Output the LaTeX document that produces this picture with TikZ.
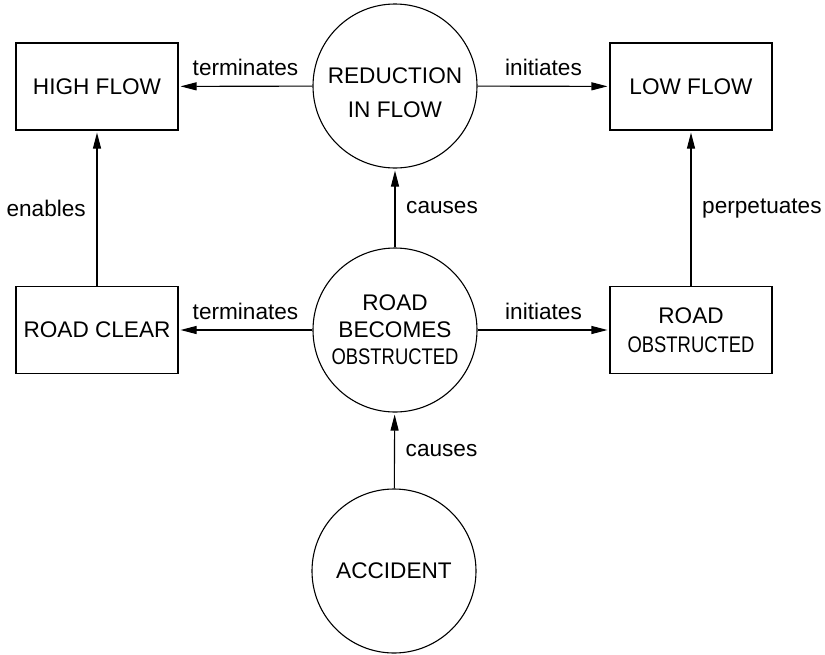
\documentclass[tikz,border=0pt]{standalone}
\usepackage{fontspec}
\setmainfont{Liberation Sans}
\usetikzlibrary{arrows.meta}
\newcommand{\squeeze}[1]{\scalebox{0.815}[1]{#1}}

\begin{document}
\begin{tikzpicture}[x=0.5pt, y=-0.5pt, line width=0.55pt,
  every node/.style={font=\fontsize{11.3}{13.5}\selectfont},
  state/.style={draw, minimum width=81pt, minimum height=43.5pt, align=center, inner sep=0pt},
  event/.style={draw, circle, minimum size=82pt, inner sep=0pt, align=center},
  flow/.style={-{Triangle[length=8pt,width=4pt]}, shorten >=1pt}]
  \useasboundingbox (0,0) rectangle (825,654);

  % Draw the events (circles)
  \node[event, label={[align=center, yshift=-3.5pt]center:REDUCTION\\[3.5pt]IN FLOW}] (rif) at (395,86) {};
  \node[event] (rbo) at (395,330) {ROAD\\BECOMES\\\squeeze{OBSTRUCTED}};
  \node[event] (acc) at (394,571) {ACCIDENT};

  % Draw the states (boxes)
  \node[state] (hf) at (97,86.5) {HIGH FLOW};
  \node[state] (lf) at (691,86.5) {LOW FLOW};
  \node[state] (rc) at (97,330) {ROAD CLEAR};
  \node[state] (ro) at (691,330) {ROAD\\[1pt]\squeeze{OBSTRUCTED}};

  % Effects of the reduction in flow
  \draw[flow] (rif) -- node[above=1.5pt] {terminates} (hf);
  \draw[flow] (rif) -- node[above=1.5pt] {initiates} (lf);

  % Effects of the road becoming obstructed
  \draw[flow] (rbo) -- node[right=2pt] {causes} (rif);
  \draw[flow] (rbo) -- node[above=1.5pt] {terminates} (rc);
  \draw[flow] (rbo) -- node[above=1.5pt] {initiates} (ro);

  % State links
  \draw[flow] (rc) -- node[left=2pt] {enables} (hf);
  \draw[flow] (ro) -- node[right=2pt] {perpetuates} (lf);

  % The accident
  \draw[flow] (acc) -- node[right=2pt] {causes} (rbo);

\end{tikzpicture}
\end{document}
